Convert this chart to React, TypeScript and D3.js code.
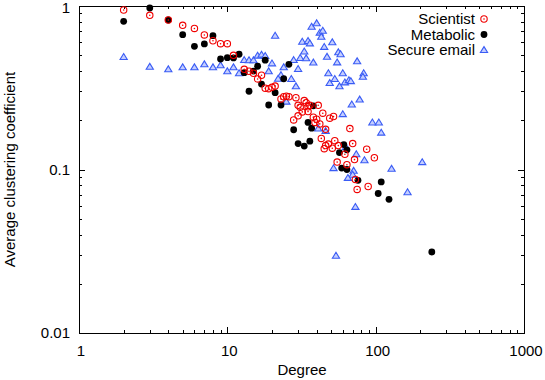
import React, { useRef, useEffect } from 'react';
import * as d3 from 'd3';

// [degree, average clustering coefficient]
const scientist: [number, number][] = [
  [2, 0.945], [3, 0.877], [4, 0.821], [5, 0.762], [6, 0.729], [7, 0.665], [8, 0.613], [9, 0.588],
  [10, 0.588], [11, 0.499], [13, 0.41], [14, 0.399], [15, 0.388], [16, 0.358], [17, 0.377],
  [18, 0.314], [19, 0.312], [20, 0.318], [21, 0.324], [23, 0.27], [24, 0.279], [25, 0.281],
  [26, 0.279], [29, 0.275], [30, 0.247], [31, 0.24], [33, 0.264], [34, 0.256], [35, 0.242],
  [32, 0.225], [35, 0.226], [36, 0.247], [28, 0.201], [30, 0.213], [38, 0.209], [40, 0.203],
  [41, 0.247], [44, 0.221], [49, 0.206], [52, 0.211], [39, 0.194], [42, 0.19], [46, 0.176],
  [67, 0.178], [43, 0.155], [53, 0.15], [48, 0.143], [46, 0.14], [51, 0.135], [45, 0.134],
  [56, 0.14], [62, 0.124], [70, 0.144], [87, 0.133], [72, 0.115], [98, 0.118], [55, 0.111],
  [64, 0.107], [73, 0.0869], [75, 0.0755], [89, 0.0787],
];

const metabolic: [number, number][] = [
  [2, 0.806], [3, 0.972], [4, 0.821], [5, 0.668], [6, 0.567], [7, 0.586], [8, 0.658], [9, 0.474],
  [10, 0.483], [11, 0.481], [12, 0.507], [13, 0.391], [15, 0.4], [16, 0.428], [18, 0.466],
  [14, 0.301], [17, 0.333], [21, 0.295], [19, 0.248], [23, 0.248], [24, 0.359], [26, 0.44],
  [38, 0.245], [28, 0.175], [35, 0.194], [37, 0.179], [30, 0.144], [33, 0.139], [36, 0.149],
  [61, 0.142], [64, 0.132], [57, 0.127], [59, 0.102], [64, 0.1], [76, 0.0859], [109, 0.0839],
  [104, 0.0713], [123, 0.0657], [239, 0.0313],
];

const secureEmail: [number, number][] = [
  [2, 0.488], [3, 0.425], [4, 0.41], [5, 0.422], [6, 0.422], [7, 0.44], [8, 0.422], [9, 0.434],
  [10, 0.399], [11, 0.422], [12, 0.388], [13, 0.467], [14, 0.466], [15, 0.466], [16, 0.497],
  [17, 0.504], [18, 0.495], [19, 0.399], [20, 0.446], [21, 0.658], [23, 0.378], [22, 0.359],
  [24, 0.422], [27, 0.358], [29, 0.323], [28, 0.467], [30, 0.412], [31, 0.481], [33, 0.527],
  [34, 0.479], [32, 0.605], [35, 0.611], [36, 0.591], [37, 0.747], [40, 0.784], [42, 0.687],
  [44, 0.706], [43, 0.648], [38, 0.451], [45, 0.562], [47, 0.489], [51, 0.6], [56, 0.521],
  [58, 0.507], [55, 0.452], [75, 0.459], [48, 0.388], [60, 0.388], [83, 0.388], [82, 0.369],
  [53, 0.358], [49, 0.338], [62, 0.341], [66, 0.352], [68, 0.347], [57, 0.323], [78, 0.268],
  [69, 0.25], [60, 0.218], [25, 0.26], [95, 0.194], [105, 0.194], [109, 0.168], [41, 0.178],
  [46, 0.172], [63, 0.137], [74, 0.124], [84, 0.114], [206, 0.111], [128, 0.101], [52, 0.102],
  [71, 0.0982], [70, 0.0929], [65, 0.0889], [164, 0.0726], [73, 0.0591], [54, 0.0297],
];

const xTickLabels = ['1', '10', '100', '1000'];
const yTickLabels = ['0.01', '0.1', '1'];
const seriesNames = ['Scientist', 'Metabolic', 'Secure email'];

const RED = '#f00000';
const BLUE = '#3a5cf5';

const App = () => {
  const ref = useRef<SVGSVGElement | null>(null);

  useEffect(() => {
    if (!ref.current) return;
    const svg = d3.select(ref.current);
    svg.selectAll('*').remove();

    const left = 79, right = 524, top = 6, bottom = 333;
    const font = 'Liberation Sans, Arial, Helvetica, sans-serif';

    const x = d3.scaleLog().domain([1, 1000]).range([left, right]);
    const y = d3.scaleLog().domain([0.01, 1]).range([bottom, top]);

    const axes = svg.append('g').attr('stroke', '#000').attr('stroke-width', 1);

    // ticks (inward, mirrored on all four sides)
    const isMajor = (v: number) => Math.abs(Math.log10(v) - Math.round(Math.log10(v))) < 1e-9;
    x.ticks().forEach(t => {
      const len = isMajor(t) ? 6 : 3;
      const px = Math.round(x(t)) + 0.5;
      axes.append('line').attr('x1', px).attr('x2', px).attr('y1', bottom).attr('y2', bottom - len);
      axes.append('line').attr('x1', px).attr('x2', px).attr('y1', top).attr('y2', top + len);
    });
    y.ticks().forEach(t => {
      const len = isMajor(t) ? 6 : 3;
      const py = Math.round(y(t)) + 0.5;
      axes.append('line').attr('x1', left).attr('x2', left + len).attr('y1', py).attr('y2', py);
      axes.append('line').attr('x1', right).attr('x2', right - len).attr('y1', py).attr('y2', py);
    });

    axes.append('rect')
      .attr('x', left + 0.5).attr('y', top + 0.5)
      .attr('width', right - left).attr('height', bottom - top)
      .attr('fill', 'none');

    // tick labels
    xTickLabels.forEach(l => {
      svg.append('text')
        .attr('x', x(+l) + 2).attr('y', 356)
        .attr('text-anchor', 'middle')
        .attr('font-family', font).attr('font-size', 15)
        .text(l);
    });
    yTickLabels.forEach(l => {
      svg.append('text')
        .attr('x', 70).attr('y', Math.max(y(+l) + 5, 13))
        .attr('text-anchor', 'end')
        .attr('font-family', font).attr('font-size', 15)
        .text(l);
    });

    svg.append('text')
      .attr('x', 302).attr('y', 375)
      .attr('text-anchor', 'middle')
      .attr('font-family', font).attr('font-size', 15)
      .text('Degree');
    svg.append('text')
      .attr('transform', `translate(15,${(top + bottom) / 2}) rotate(-90)`)
      .attr('text-anchor', 'middle')
      .attr('font-family', font).attr('font-size', 15)
      .text('Average clustering coefficient');

    // markers
    const drawCircle = (g: any, cx: number, cy: number) => {
      g.append('circle').attr('cx', cx).attr('cy', cy).attr('r', 3.2)
        .attr('fill', 'none').attr('stroke', RED).attr('stroke-width', 1.1);
      g.append('circle').attr('cx', cx).attr('cy', cy).attr('r', 0.8).attr('fill', RED);
    };
    const drawDot = (g: any, cx: number, cy: number) => {
      g.append('circle').attr('cx', cx).attr('cy', cy).attr('r', 3.4).attr('fill', '#000');
    };
    const drawTri = (g: any, cx: number, cy: number) => {
      g.append('path')
        .attr('d', `M${cx},${cy - 3.4}L${cx + 3.6},${cy + 2.5}L${cx - 3.6},${cy + 2.5}Z`)
        .attr('fill', '#c4ceff').attr('stroke', BLUE).attr('stroke-width', 1.1);
    };

    const marks = svg.append('g');
    secureEmail.forEach(d => drawTri(marks, x(d[0]), y(d[1])));
    metabolic.forEach(d => drawDot(marks, x(d[0]), y(d[1])));
    scientist.forEach(d => drawCircle(marks, x(d[0]), y(d[1])));

    // legend
    const drawers = [drawCircle, drawDot, drawTri];
    seriesNames.forEach((name, i) => {
      const ly = 19 + i * 15.5;
      svg.append('text')
        .attr('x', 475).attr('y', ly + 5)
        .attr('text-anchor', 'end')
        .attr('font-family', font).attr('font-size', 15)
        .text(name);
      drawers[i](svg, 484, ly);
    });
  }, []);

  return (
    <svg
      ref={ref}
      width={545}
      height={380}
      style={{ position: 'absolute', left: 0, top: 0, background: '#fff' }}
    />
  );
};

export default App;
